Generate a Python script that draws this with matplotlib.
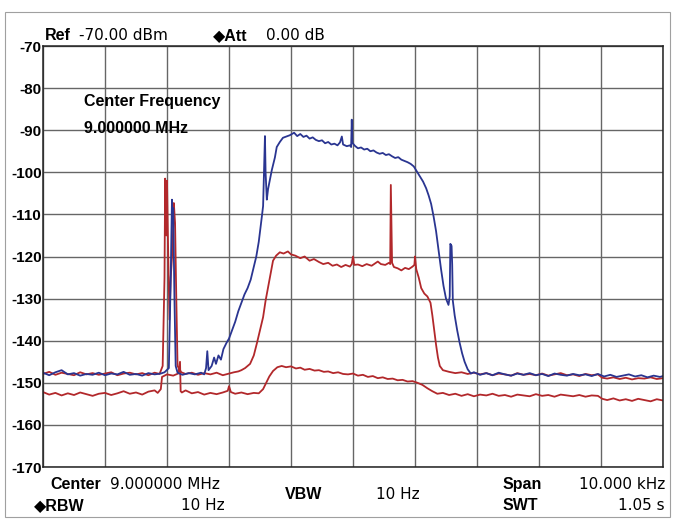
import matplotlib
matplotlib.use("Agg")
import matplotlib.pyplot as plt
from matplotlib.patches import Rectangle

plt.rcParams["axes.unicode_minus"] = False

# spectrum analyser screen: 9 MHz centre, 10 kHz span, x in kHz offset from centre
ref_level = -70
y_ticks = [-70, -80, -90, -100, -110, -120, -130, -140, -150, -160, -170]
x_grid = [-5, -4, -3, -2, -1, 0, 1, 2, 3, 4, 5]

blue_khz = [-5.00, -4.90, -4.80, -4.70, -4.60, -4.50, -4.40, -4.30, -4.20, -4.10, -4.00,
            -3.90, -3.80, -3.70, -3.60, -3.50, -3.40, -3.30, -3.20, -3.10, -3.04,
            -2.97, -2.94, -2.92, -2.91, -2.90, -2.88, -2.86, -2.83,
            -2.75, -2.65, -2.55, -2.45, -2.40, -2.37, -2.35, -2.33, -2.28, -2.24, -2.21,
            -2.17, -2.13, -2.09, -2.04, -2.00, -1.95, -1.90, -1.85, -1.80, -1.75, -1.70,
            -1.65, -1.60, -1.56, -1.52, -1.49, -1.47, -1.45, -1.42, -1.41, -1.39, -1.37,
            -1.31, -1.26, -1.23, -1.18, -1.13, -1.02, -0.95, -0.90, -0.85, -0.80, -0.75,
            -0.70, -0.65, -0.60, -0.55, -0.50, -0.45, -0.40, -0.35, -0.30, -0.25, -0.21,
            -0.18, -0.16, -0.10, -0.05, -0.03, -0.02, -0.01, 0.03, 0.08, 0.13, 0.18,
            0.23, 0.28, 0.33, 0.38, 0.43, 0.48, 0.53, 0.58, 0.63, 0.68, 0.73, 0.78,
            0.83, 0.88, 0.93, 0.98, 1.03, 1.08, 1.13, 1.18, 1.22, 1.26, 1.30, 1.34,
            1.38, 1.42, 1.46, 1.50, 1.54, 1.56, 1.57, 1.59, 1.60, 1.61, 1.64, 1.68,
            1.72, 1.76, 1.80, 1.85, 1.90, 1.95, 2.05, 2.15, 2.25, 2.35, 2.45, 2.55,
            2.65, 2.75, 2.85, 2.95, 3.05, 3.15, 3.25, 3.35, 3.45, 3.55, 3.65, 3.75,
            3.85, 3.95, 4.05, 4.15, 4.25, 4.35, 4.45, 4.55, 4.65, 4.75, 4.85, 4.95, 5.00]
blue_dbm = [-147.6, -148.2, -147.5, -147.0, -148.0, -147.7, -148.3, -147.9, -148.1, -147.6, -148.2,
            -147.8, -148.0, -147.4, -148.1, -147.9, -148.3, -147.7, -148.0, -147.8, -147.5,
            -146.5, -125.0, -106.5, -112.0, -108.5, -130.0, -146.0, -147.6,
            -148.1, -147.7, -148.0, -147.6, -148.0, -146.5, -142.5, -147.0, -146.0, -144.0, -145.5,
            -143.5, -144.5, -142.0, -140.5, -139.5, -137.5, -135.5, -133.0, -131.0, -129.0, -127.5,
            -125.5, -122.5, -120.0, -116.5, -113.0, -110.5, -108.0, -91.4, -100.0, -106.5, -104.0,
            -99.5, -96.5, -94.0, -92.8, -91.8, -91.2, -90.6, -91.4, -90.9, -91.6, -91.3,
            -92.0, -91.7, -92.3, -92.6, -92.4, -93.1, -92.8, -93.4, -93.2, -93.6, -92.9,
            -91.5, -93.4, -93.8, -93.6, -94.0, -87.5, -93.0, -93.7, -94.3, -94.1, -94.6,
            -94.4, -95.0, -94.8, -95.3, -95.6, -95.4, -95.9, -95.7, -96.2, -96.6, -96.4, -97.0,
            -97.3, -97.6, -98.0, -98.6, -99.8, -101.0, -102.2, -103.8, -105.5, -107.5, -110.5, -114.0,
            -118.5, -123.0, -127.0, -130.0, -131.5, -129.5, -117.0, -117.5, -122.0, -130.5, -134.0, -137.5,
            -140.5, -143.0, -145.0, -146.8, -147.8, -147.5, -148.1, -147.7, -148.2, -147.6, -148.0, -148.3,
            -147.8, -148.1, -147.7, -148.2, -147.9, -148.4, -147.8, -148.1, -148.3, -147.9, -148.2, -148.0,
            -148.4, -147.9, -148.5, -148.1, -148.6, -148.3, -148.0, -148.5, -148.2, -148.7, -148.3, -148.6, -148.4]

red_hi_khz = [-5.00, -4.90, -4.80, -4.70, -4.60, -4.50, -4.40, -4.30, -4.20, -4.10, -4.00,
              -3.90, -3.80, -3.70, -3.60, -3.50, -3.40, -3.30, -3.20, -3.12,
              -3.07, -3.04, -3.03, -3.01, -3.00, -2.98, -2.96, -2.94, -2.91, -2.89, -2.87,
              -2.85, -2.83, -2.77, -2.70, -2.60, -2.50, -2.40, -2.30, -2.20, -2.10, -2.00,
              -1.92, -1.85, -1.80, -1.74, -1.66, -1.60, -1.55, -1.50, -1.45, -1.41, -1.37,
              -1.33, -1.29, -1.24, -1.18, -1.12, -1.05, -1.00, -0.93, -0.85, -0.78, -0.70,
              -0.63, -0.55, -0.48, -0.40, -0.33, -0.26, -0.19, -0.12, -0.05, -0.02, 0.00,
              0.02, 0.08, 0.15, 0.22, 0.30, 0.36, 0.40, 0.45, 0.52, 0.58, 0.60, 0.61,
              0.63, 0.66, 0.72, 0.78, 0.84, 0.90, 0.96, 0.99, 1.00, 1.02, 1.06, 1.10,
              1.15, 1.20, 1.25, 1.28, 1.31, 1.34, 1.37, 1.40, 1.45, 1.55, 1.65, 1.75,
              1.85, 1.95, 2.05, 2.15, 2.25, 2.35, 2.45, 2.55, 2.65, 2.75, 2.85, 2.95,
              3.05, 3.15, 3.25, 3.35, 3.45, 3.55, 3.65, 3.75, 3.85, 3.95, 4.02, 4.10,
              4.20, 4.30, 4.40, 4.50, 4.60, 4.70, 4.80, 4.90, 5.00]
red_hi_dbm = [-147.9, -147.4, -148.1, -147.6, -147.9, -148.2, -147.5, -148.0, -147.7, -148.1, -147.8,
              -147.5, -148.2, -147.8, -147.6, -148.0, -147.7, -148.2, -147.6, -147.9,
              -146.0, -125.0, -101.5, -115.0, -102.0, -120.0, -135.0, -125.0, -118.0, -107.3, -112.0,
              -130.0, -146.0, -147.5, -147.9, -147.6, -148.1, -147.7, -148.0, -147.6, -148.2, -147.8,
              -147.5, -147.3, -147.0, -146.5, -145.5, -143.5, -140.6, -137.5, -134.4, -130.5, -127.3,
              -124.0, -121.0, -119.8, -119.0, -119.3, -118.8, -119.5, -119.8, -120.4, -120.0, -121.0,
              -120.6, -121.3, -121.8, -121.5, -122.2, -121.9, -122.5, -122.0, -122.4, -121.8, -120.0,
              -122.0, -121.9, -122.3, -121.8, -122.2, -121.6, -121.2, -121.8, -122.0, -121.5, -121.8, -103.0,
              -121.5, -122.5, -122.8, -123.3, -122.7, -123.0, -122.4, -122.0, -120.0, -123.0, -125.0, -127.5,
              -128.8, -129.5, -131.0, -134.0, -137.5, -141.0, -144.0, -146.0, -147.0, -147.4, -147.7, -147.5,
              -147.9, -147.6, -148.0, -147.7, -148.2, -147.8, -148.0, -148.3, -147.7, -148.1, -147.9, -148.2,
              -147.8, -148.3, -148.0, -147.7, -148.2, -148.0, -148.4, -147.9, -148.2, -148.0, -148.8, -149.0,
              -148.7, -149.1, -148.8, -149.2, -148.9, -149.0, -148.7, -149.1, -148.9]

red_lo_khz = [-5.00, -4.90, -4.80, -4.70, -4.60, -4.50, -4.40, -4.30, -4.20, -4.10, -4.00,
              -3.90, -3.80, -3.70, -3.60, -3.50, -3.40, -3.30, -3.20, -3.15, -3.10,
              -3.08, -3.00, -2.90, -2.82, -2.79, -2.78, -2.76, -2.70, -2.60, -2.50, -2.40,
              -2.30, -2.20, -2.10, -2.02, -2.00, -1.97, -1.90, -1.80, -1.70, -1.60, -1.52,
              -1.45, -1.40, -1.35, -1.29, -1.22, -1.15, -1.08, -1.00, -0.92, -0.85, -0.78,
              -0.70, -0.62, -0.55, -0.47, -0.40, -0.32, -0.24, -0.16, -0.08, 0.00, 0.08,
              0.16, 0.24, 0.32, 0.40, 0.48, 0.56, 0.64, 0.72, 0.80, 0.88, 0.96, 1.04,
              1.12, 1.20, 1.28, 1.36, 1.45, 1.55, 1.65, 1.75, 1.85, 1.95, 2.05, 2.15,
              2.25, 2.35, 2.45, 2.55, 2.65, 2.75, 2.85, 2.95, 3.05, 3.15, 3.25, 3.35,
              3.45, 3.55, 3.65, 3.75, 3.85, 3.95, 4.02, 4.10, 4.20, 4.30, 4.40, 4.50,
              4.60, 4.70, 4.80, 4.90, 5.00]
red_lo_dbm = [-152.2, -152.8, -152.4, -153.0, -152.5, -152.9, -152.3, -152.7, -153.1, -152.6, -152.4,
              -152.9, -152.5, -152.0, -152.6, -152.3, -152.8, -152.1, -151.8, -152.4, -151.5,
              -148.6, -148.0, -148.3, -147.8, -145.0, -152.0, -152.3, -151.8, -152.5, -152.2, -152.8,
              -152.4, -152.7, -152.3, -151.9, -150.8, -152.2, -152.6, -152.3, -152.7, -152.4, -152.5,
              -151.5, -150.0, -148.5, -147.2, -146.3, -146.0, -146.3, -146.1, -146.6, -146.4, -146.9,
              -146.7, -147.1, -147.0, -147.4, -147.3, -147.7, -147.5, -147.9, -148.0, -147.8, -148.3,
              -148.1, -148.6, -148.4, -148.9, -148.7, -149.1, -149.0, -149.4, -149.3, -149.7, -149.6, -150.0,
              -150.5, -151.3, -152.0, -152.6, -152.4, -152.9, -152.6, -153.1, -152.7, -153.2, -152.8, -153.0,
              -152.6, -153.1, -152.9, -153.3, -152.8, -153.0, -153.2, -152.7, -153.1, -152.9, -153.3, -152.8,
              -153.0, -153.2, -152.9, -153.3, -153.0, -153.1, -153.8, -154.1, -153.7, -154.2, -153.9, -154.3,
              -153.8, -154.1, -154.4, -153.9, -154.2]

W, H = 676, 521
fig = plt.figure(figsize=(W / 100, H / 100), dpi=100)
fig.patch.set_facecolor("white")

# thin outer frame of the screen capture
fig.patches.append(Rectangle((5 / W, 1 - 517 / H), 665 / W, 505 / H, transform=fig.transFigure,
                             fill=False, edgecolor="#a0a0a0", lw=0.8))

ax = fig.add_axes([43 / W, (H - 467) / H, 620 / W, 421 / H])
ax.plot(red_lo_khz, red_lo_dbm, color="#b2282b", lw=1.3)
ax.plot(red_hi_khz, red_hi_dbm, color="#b2282b", lw=1.3)
ax.plot(blue_khz, blue_dbm, color="#2a3591", lw=1.3)

ax.set_xlim(-5, 5)
ax.set_ylim(-170, ref_level)
ax.set_xticks(x_grid)
ax.set_yticks(y_ticks)
ax.set_xticklabels([])
ax.grid(True, color="#666666", lw=1.0)
ax.set_axisbelow(True)
ax.tick_params(axis="both", length=0, pad=1)
ax.tick_params(axis="y", labelsize=11)
for lab in ax.get_yticklabels():
    lab.set_fontfamily(["Liberation Sans", "DejaVu Sans"])
    lab.set_fontweight("bold")
for sp in ax.spines.values():
    sp.set_color("#222222")
    sp.set_linewidth(1.1)

bold = dict(family=["Liberation Sans", "DejaVu Sans"], fontweight="bold", fontsize=11.5)
norm = dict(family=["DejaVu Sans"], fontsize=11)


def put(x, y, s, ha="left", **kw):
    fig.text(x / W, 1 - y / H, s, ha=ha, va="baseline", **kw)


# header
put(45, 40, "Ref", **bold)
put(79, 40, "-70.00 dBm", **norm)
put(213, 40, "\u25c6Att", **bold)
put(266, 40, "0.00 dB", **norm)

# marker text inside the grid
put(84, 106, "Center Frequency", **bold)
put(84, 133, "9.000000 MHz", **bold)

# footer
put(50, 489, "Center", **bold)
put(110, 489, "9.000000 MHz", **norm)
put(34, 510, "\u25c6RBW", **bold)
put(225, 510, "10 Hz", ha="right", **norm)
put(285, 499, "VBW", **bold)
put(376, 499, "10 Hz", **norm)
put(503, 489, "Span", **bold)
put(665, 489, "10.000 kHz", ha="right", **norm)
put(503, 510, "SWT", **bold)
put(665, 510, "1.05 s", ha="right", **norm)

fig.savefig("out.png", dpi=100)
